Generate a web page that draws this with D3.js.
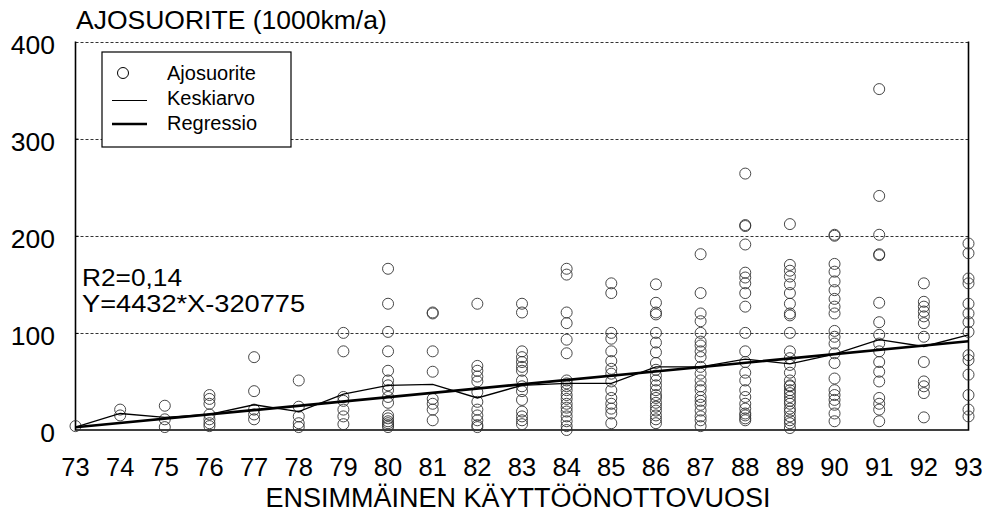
<!DOCTYPE html>
<html>
<head>
<meta charset="utf-8">
<script src="https://cdn.jsdelivr.net/npm/d3@7"></script>
<style>
  body { margin: 0; background: #fff; }
  text { font-family: "Liberation Sans", Arial, sans-serif; fill: #000; }
</style>
</head>
<body>
<svg id="mainSVG"></svg>
<script>
/* ----------SVG size---------- */

var WIDTH = 987,
    HEIGHT = 521;

/* ----------data (1000 km/a)---------- */

var years = [73, 74, 75, 76, 77, 78, 79, 80, 81, 82, 83, 84, 85, 86, 87, 88, 89, 90, 91, 92, 93];

var ajosuorite = [
    [4],
    [21, 15],
    [25, 11, 3],
    [36, 32, 27, 16, 11, 7, 4],
    [75, 40, 21, 16, 11],
    [51, 24, 14, 7, 3],
    [100, 81, 34, 30, 21, 14, 6],
    [166, 130, 101, 81, 61, 51, 46, 41, 34, 28, 15, 12, 9, 7, 5, 3],
    [121, 120, 81, 60, 32, 27, 21, 10],
    [130, 66, 61, 55, 50, 39, 29, 21, 15, 10, 5, 3],
    [130, 121, 81, 75, 70, 65, 61, 51, 45, 40, 31, 19, 14, 10, 6],
    [166, 160, 121, 110, 93, 79, 51, 48, 45, 41, 36, 32, 27, 23, 19, 14, 9, 4, 0],
    [151, 141, 100, 94, 81, 71, 63, 58, 50, 41, 33, 27, 22, 17, 7],
    [150, 131, 121, 119, 100, 90, 80, 69, 62, 56, 51, 46, 41, 36, 33, 28, 24, 20, 15, 11, 7],
    [181, 141, 120, 112, 100, 91, 87, 81, 75, 65, 58, 51, 45, 41, 34, 30, 26, 20, 14, 10, 4],
    [264, 211, 210, 191, 162, 157, 151, 141, 127, 100, 81, 70, 59, 51, 41, 34, 27, 22, 17, 15, 12, 10],
    [212, 170, 164, 158, 150, 141, 130, 120, 118, 100, 81, 74, 67, 59, 51, 46, 45, 41, 38, 34, 30, 27, 22, 19, 14, 10, 7, 2],
    [201, 200, 171, 163, 153, 144, 135, 127, 120, 102, 96, 89, 79, 69, 53, 41, 36, 31, 26, 17, 9],
    [351, 241, 201, 181, 180, 131, 111, 98, 89, 81, 70, 60, 50, 33, 27, 21, 9],
    [151, 132, 127, 122, 117, 110, 96, 70, 50, 45, 38, 13],
    [192, 182, 156, 151, 130, 120, 111, 101, 77, 72, 57, 36, 21, 14]
];

var keskiarvo = [3, 17, 13, 16, 26, 19, 37, 46, 47, 33, 46, 48, 48, 65, 65, 73, 68, 78, 93, 86, 98];

// regressio Y=4432*X-320775, end points 73 and 93
var regressioX = [73, 93],
    regressioY = [2.8, 91.4];

var yTicks = [0, 100, 200, 300, 400],
    yGrid = [100, 200, 300, 400];

var legendItems = ["Ajosuorite", "Keskiarvo", "Regressio"];

/* ----------scales---------- */

var x = d3.scaleLinear().domain([73, 93]).range([75.5, 968.5]);
var y = d3.scaleLinear().domain([0, 400]).range([430, 41.5]);

var svg = d3.select("#mainSVG")
    .attr("width", WIDTH)
    .attr("height", HEIGHT);

/* ----------grid---------- */

svg.append("g")
    .selectAll("line")
    .data(yGrid)
  .enter().append("line")
    .attr("x1", x(73))
    .attr("x2", x(93))
    .attr("y1", function(d) { return Math.round(y(d)) + 0.5; })
    .attr("y2", function(d) { return Math.round(y(d)) + 0.5; })
    .attr("stroke", "#333")
    .attr("stroke-width", 1)
    .attr("stroke-dasharray", "3,2");

/* ----------axes---------- */

var yAxis = svg.append("g")
    .attr("transform", "translate(" + x(73) + ",0)")
    .call(d3.axisRight(y).tickValues([100, 200, 300]).tickSize(3).tickFormat(""));
yAxis.select(".domain").remove();
yAxis.selectAll("line").attr("stroke", "#000");

svg.append("g")
    .selectAll("text")
    .data(yTicks)
  .enter().append("text")
    .attr("x", 55)
    .attr("y", function(d) { return y(d) + 12; })
    .attr("text-anchor", "end")
    .attr("font-size", "26.5px")
    .text(function(d) { return d; });

svg.append("g")
    .selectAll("text")
    .data(years)
  .enter().append("text")
    .attr("x", function(d) { return x(d); })
    .attr("y", 476)
    .attr("text-anchor", "middle")
    .attr("font-size", "25.5px")
    .text(function(d) { return d; });

// frame: left, bottom, right solid
svg.append("path")
    .attr("d", "M" + x(73) + "," + y(400) + "V" + y(0) + "H" + x(93) + "V" + y(400))
    .attr("fill", "none")
    .attr("stroke", "#000")
    .attr("stroke-width", 1.6);

/* ----------titles---------- */

svg.append("text")
    .attr("x", 76)
    .attr("y", 29)
    .attr("font-size", "26.5px")
    .text("AJOSUORITE (1000km/a)");

svg.append("text")
    .attr("x", 518)
    .attr("y", 507)
    .attr("text-anchor", "middle")
    .attr("font-size", "27px")
    .text("ENSIMMÄINEN KÄYTTÖÖNOTTOVUOSI");

// R2 and equation, condensed a bit so the two lines do not collide
svg.append("text")
    .attr("x", 82)
    .attr("y", 286)
    .attr("font-size", "23px")
    .attr("textLength", 100)
    .attr("lengthAdjust", "spacingAndGlyphs")
    .text("R2=0,14");

svg.append("text")
    .attr("x", 82)
    .attr("y", 312)
    .attr("font-size", "23px")
    .attr("textLength", 223)
    .attr("lengthAdjust", "spacingAndGlyphs")
    .text("Y=4432*X-320775");

/* ----------points---------- */

var points = [];
years.forEach(function(yr, i) {
    ajosuorite[i].forEach(function(v) { points.push({x: yr, y: v}); });
});

svg.append("g")
    .selectAll("circle")
    .data(points)
  .enter().append("circle")
    .attr("cx", function(d) { return x(d.x); })
    .attr("cy", function(d) { return y(d.y); })
    .attr("r", 5.5)
    .attr("fill", "none")
    .attr("stroke", "#333")
    .attr("stroke-width", 0.9);

/* ----------lines---------- */

var meanLine = d3.line()
    .x(function(d, i) { return x(years[i]); })
    .y(function(d) { return y(d); });

svg.append("path")
    .datum(keskiarvo)
    .attr("d", meanLine)
    .attr("fill", "none")
    .attr("stroke", "#000")
    .attr("stroke-width", 1.3);

var regLine = d3.line()
    .x(function(d, i) { return x(regressioX[i]); })
    .y(function(d) { return y(d); });

svg.append("path")
    .datum(regressioY)
    .attr("d", regLine)
    .attr("fill", "none")
    .attr("stroke", "#000")
    .attr("stroke-width", 2.6);

/* ----------legend---------- */

var legend = svg.append("g");

legend.append("rect")
    .attr("x", 102)
    .attr("y", 52)
    .attr("width", 189)
    .attr("height", 95)
    .attr("fill", "#fff")
    .attr("stroke", "#000")
    .attr("stroke-width", 1.2);

legend.append("circle")
    .attr("cx", 123)
    .attr("cy", 73)
    .attr("r", 5.5)
    .attr("fill", "none")
    .attr("stroke", "#000")
    .attr("stroke-width", 1);

legend.append("line")
    .attr("x1", 112).attr("x2", 147)
    .attr("y1", 100.5).attr("y2", 100.5)
    .attr("stroke", "#000")
    .attr("stroke-width", 1.2);

legend.append("line")
    .attr("x1", 112).attr("x2", 147)
    .attr("y1", 124).attr("y2", 124)
    .attr("stroke", "#000")
    .attr("stroke-width", 2.4);

legend.selectAll("text")
    .data(legendItems)
  .enter().append("text")
    .attr("x", 167)
    .attr("y", function(d, i) { return 80 + i * 25; })
    .attr("font-size", "20px")
    .text(function(d) { return d; });
</script>
</body>
</html>
